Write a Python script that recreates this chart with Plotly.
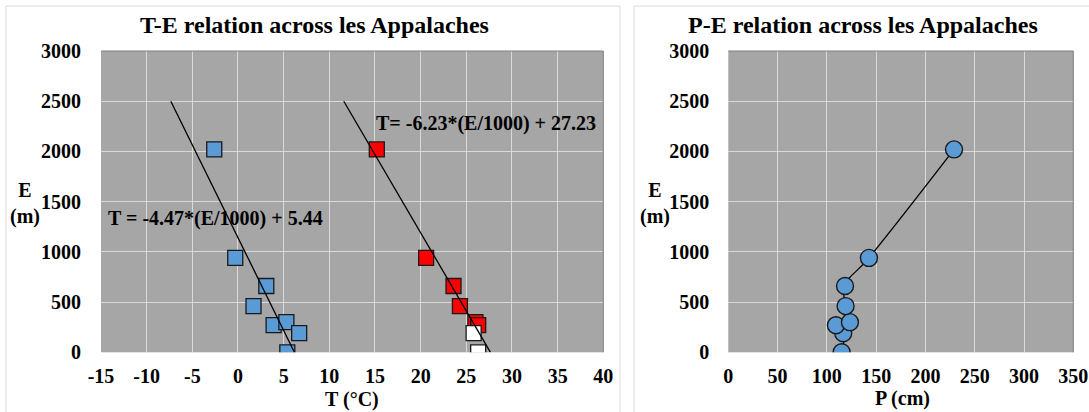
import numpy as np
import plotly.graph_objects as go

# ---- data -------------------------------------------------------------
# Elevation (m) and mean temperature (°C) of the stations, two seasons
elev_cold = [2020, 940, 660, 460, 270, 300, 190, 0]
temp_cold = [-2.6, -0.3, 3.1, 1.7, 3.9, 5.3, 6.7, 5.4]

elev_warm = [2020, 940, 660, 460, 300, 270]
temp_warm = [15.2, 20.6, 23.6, 24.3, 26.0, 26.3]

# warm-season stations left out of the fit (open squares)
elev_warm_open = [190, 0]
temp_warm_open = [25.8, 26.3]

# Elevation (m) and annual precipitation (cm)
elev_precip = [0, 190, 270, 300, 460, 660, 940, 2020]
precip = [115, 116.6, 109.2, 123.4, 119, 118.4, 142.7, 229]

eq_cold = "T = -4.47*(E/1000) + 5.44"
eq_warm = "T= -6.23*(E/1000) + 27.23"

x_ticks_t = list(range(-15, 41, 5))
x_ticks_p = list(range(0, 351, 50))
y_ticks_e = list(range(0, 3001, 500))

# extent of the drawn trend lines along the elevation axis
TREND_E = np.array([0.0, 2500.0])

# ---- figure geometry (pixels) ------------------------------------------
W, H = 1089, 412
FONT = "Liberation Serif"
BLUE = "#5B9BD5"
RED = "#FF0000"
PLOT_BG = "#A6A6A6"
GRID = "#D9D9D9"


def px(x):
    return x / W


def py(y):
    return (H - y) / H


def trend_line(t, e):
    # least-squares line E = a*T + b, drawn over the TREND_E span
    a, b = np.polyfit(np.asarray(t, float), np.asarray(e, float), 1)
    return (TREND_E - b) / a, TREND_E


fig = go.Figure()

sq = dict(symbol="square", size=15, line=dict(color="#1a1a1a", width=1.3))
fig.add_trace(go.Scatter(x=temp_cold, y=elev_cold, mode="markers",
                         marker=dict(color=BLUE, **sq), xaxis="x", yaxis="y"))
fig.add_trace(go.Scatter(x=temp_warm, y=elev_warm, mode="markers",
                         marker=dict(color=RED, **sq), xaxis="x", yaxis="y"))
fig.add_trace(go.Scatter(x=temp_warm_open, y=elev_warm_open, mode="markers",
                         marker=dict(color="white", **sq), xaxis="x", yaxis="y"))

for t, e in ((temp_cold, elev_cold), (temp_warm, elev_warm)):
    lx, ly = trend_line(t, e)
    fig.add_trace(go.Scatter(x=lx, y=ly, mode="lines",
                             line=dict(color="black", width=1.3),
                             xaxis="x", yaxis="y"))

fig.add_trace(go.Scatter(x=precip, y=elev_precip, mode="lines+markers",
                         line=dict(color="black", width=1.3, shape="spline",
                                   smoothing=1.3),
                         marker=dict(symbol="circle", size=17, color=BLUE,
                                     line=dict(color="#1a1a1a", width=1.4)),
                         xaxis="x2", yaxis="y2"))

tick_font = dict(family=FONT, size=20, color="black", weight="bold")
common_axis = dict(showgrid=True, gridcolor=GRID, gridwidth=1, zeroline=False,
                   showline=False, ticks="outside", tickcolor="rgba(0,0,0,0)",
                   tickfont=tick_font, fixedrange=True, automargin=False)


def labels(vals):
    return [str(v) for v in vals]


y_dom = [py(352.3), py(51)]
fig.update_layout(
    width=W, height=H,
    margin=dict(l=0, r=0, t=0, b=0, autoexpand=False),
    paper_bgcolor="white",
    plot_bgcolor=PLOT_BG,
    showlegend=False,
    xaxis=dict(domain=[px(101), px(603.3)], range=[-15, 40],
               tickvals=x_ticks_t, ticktext=labels(x_ticks_t), ticklen=6,
               anchor="y", **common_axis),
    yaxis=dict(domain=y_dom, range=[0, 3000], tickvals=y_ticks_e,
               ticktext=labels(y_ticks_e), ticklen=15, anchor="x", **common_axis),
    xaxis2=dict(domain=[px(728.3), px(1073.3)], range=[0, 350],
                tickvals=x_ticks_p, ticktext=labels(x_ticks_p), ticklen=6,
                anchor="y2", **common_axis),
    yaxis2=dict(domain=y_dom, range=[0, 3000], tickvals=y_ticks_e,
                ticktext=labels(y_ticks_e), ticklen=14, anchor="x2",
                **common_axis),
)

# chart-area frames and plot-area edges
shapes = [
    dict(type="rect", xref="paper", yref="paper", x0=px(6), x1=px(620),
         y0=-0.02, y1=py(6), line=dict(color="#D9D9D9", width=1)),
    dict(type="rect", xref="paper", yref="paper", x0=px(634), x1=1.02,
         y0=-0.02, y1=py(6), line=dict(color="#D9D9D9", width=1)),
]
for xa, ya in (("x", "y"), ("x2", "y2")):
    shapes.append(dict(type="line", xref=f"{xa} domain", yref=f"{ya} domain",
                       x0=0, x1=1, y0=1, y1=1, line=dict(color="#7F7F7F", width=1)))
    shapes.append(dict(type="line", xref=f"{xa} domain", yref=f"{ya} domain",
                       x0=1, x1=1, y0=0, y1=1, line=dict(color="#7F7F7F", width=1)))
fig.update_layout(shapes=shapes)

text_font = dict(family=FONT, size=20, color="black", weight="bold")
title_font = dict(family=FONT, size=24, color="black", weight="bold")


def note(text, x, y, font):
    fig.add_annotation(text=text, xref="paper", yref="paper", x=px(x), y=py(y),
                       xanchor="center", yanchor="middle", showarrow=False,
                       font=font)


note("T-E relation across les Appalaches", 314, 25, title_font)
note("P-E relation across les Appalaches", 863, 25, title_font)
note("E<br>(m)", 25, 203, text_font)
note("E<br>(m)", 655, 203, text_font)
note("T (°C)", 352, 399, text_font)
note("P (cm)", 902, 398, text_font)
note(eq_cold, 215, 218, text_font)
note(eq_warm, 485.5, 124, text_font)

fig.write_html("out.html")
